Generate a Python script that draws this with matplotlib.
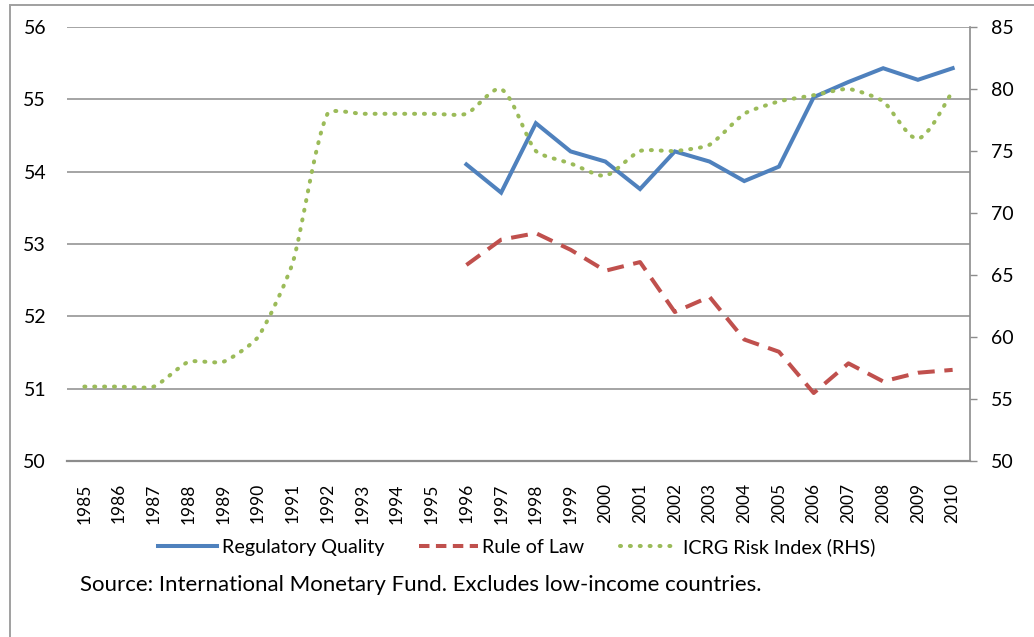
import matplotlib.pyplot as plt
from matplotlib.path import Path
from matplotlib.patches import PathPatch, Rectangle
from matplotlib.lines import Line2D
import numpy as np

# -------------------------------
# data
# -------------------------------
years = list(range(1985, 2011))
reg_years = list(range(1996, 2011))
regulatory_quality = [54.10, 53.71, 54.67, 54.28, 54.14, 53.76, 54.28, 54.14,
                      53.87, 54.07, 55.03, 55.24, 55.43, 55.27, 55.43]
rule_of_law = [52.71, 53.06, 53.15, 52.92, 52.63, 52.75, 52.06, 52.27,
               51.68, 51.51, 50.94, 51.35, 51.10, 51.22, 51.26]
icrg_risk = [56, 56, 56, 58, 58, 60, 66, 78, 78, 78, 78, 78, 80, 75, 74, 73,
             75, 75, 75.5, 78, 79, 79.5, 80, 79, 76, 79.8]

BLUE = "#4F81BD"
RED = "#C0504D"
GREEN = "#9BBB59"
GRAY = "#8C8C8C"

plt.rcParams["font.family"] = ["Lato", "DejaVu Sans"]


def smooth_path(xs, ys, yscale, k=0.2):
    # excel-style smoothed line; tangents worked out in (roughly) screen proportions
    pts = np.column_stack([xs, ys]).astype(float)
    s = np.array([1.0, yscale])
    n = len(pts)
    tang = []
    for i in range(n):
        d = (pts[min(i + 1, n - 1)] - pts[max(i - 1, 0)]) * s
        tang.append(d / np.hypot(*d))
    verts = [pts[0]]
    codes = [Path.MOVETO]
    for i in range(n - 1):
        p1, p2 = pts[i], pts[i + 1]
        L = np.hypot(*((p2 - p1) * s))
        c1 = p1 + tang[i] * L * k / s
        c2 = p2 - tang[i + 1] * L * k / s
        verts += [c1, c2, p2]
        codes += [Path.CURVE4] * 3
    return Path(verts, codes)


DOTS = (0, (0.25, 2.2))

fig = plt.figure(figsize=(10.34, 6.37), dpi=100)
ax = fig.add_axes([67 / 1034, 1 - 461 / 637, 903 / 1034, 434 / 637])
ax2 = ax.twinx()

x_all = np.arange(len(years))
x_reg = np.array([years.index(y) for y in reg_years])

ax.plot(x_reg, regulatory_quality, color=BLUE, lw=2.9, solid_joinstyle="miter", zorder=3)
ax.plot(x_reg, rule_of_law, color=RED, lw=2.9, dashes=(4.2, 2.4), zorder=3)

# 12.4 px per RHS unit vs 34.7 px per year
icrg_patch = PathPatch(smooth_path(x_all, icrg_risk, 12.4 / 34.7), fill=False, edgecolor=GREEN,
                       lw=2.9, capstyle="round", zorder=3)
icrg_patch.set_linestyle(DOTS)
ax2.add_patch(icrg_patch)

# axes
ax.set_xlim(-0.5, len(years) - 0.5)
ax.set_ylim(50, 56)
ax.set_yticks(range(50, 57))
ax2.set_ylim(50, 85)
ax2.set_yticks(range(50, 86, 5))

ax.set_xticks(x_all)
ax.set_xticklabels([str(y) for y in years], rotation=90, fontsize=12.5)
ax.tick_params(axis="x", length=0, pad=16)
ax.tick_params(axis="y", length=0, pad=15, labelsize=14)
ax2.tick_params(axis="y", length=5, width=1, color=GRAY, pad=10, labelsize=14)

ax.yaxis.grid(True, color=GRAY, lw=1.1)
ax.set_axisbelow(True)
for sp in ["left", "top", "right"]:
    ax.spines[sp].set_visible(False)
    ax2.spines[sp].set_visible(False)
ax.spines["bottom"].set_color(GRAY)
ax.spines["bottom"].set_linewidth(1.6)
ax2.spines["bottom"].set_visible(False)
ax2.spines["right"].set_visible(True)
ax2.spines["right"].set_color(GRAY)
ax2.spines["right"].set_linewidth(1.2)

# legend
handles = [
    Line2D([], [], color=BLUE, lw=2.9),
    Line2D([], [], color=RED, lw=2.9, dashes=(2.6, 1.6)),
    Line2D([], [], color=GREEN, lw=2.9, linestyle=DOTS, dash_capstyle="round"),
]
labels = ["Regulatory Quality", "Rule of Law", "ICRG Risk Index (RHS)"]
fig.legend(handles, labels, loc="center", bbox_to_anchor=(0.5, 1 - 547 / 637), ncol=3,
           frameon=False, fontsize=14.2, handlelength=2.95, handletextpad=0.25,
           columnspacing=1.8)

fig.text(80 / 1034, 1 - 585 / 637, "Source: International Monetary Fund. Excludes low-income countries.",
         fontsize=16, va="center", ha="left")

# outer frame (only the left/top edges show in the crop)
fig.patches.append(Rectangle((10 / 1034, -0.05), 1.2, 1 - 5 / 637 + 0.05, transform=fig.transFigure,
                             fill=False, edgecolor="#A0A0A0", lw=1.4))

fig.savefig("out.png", dpi=100)
